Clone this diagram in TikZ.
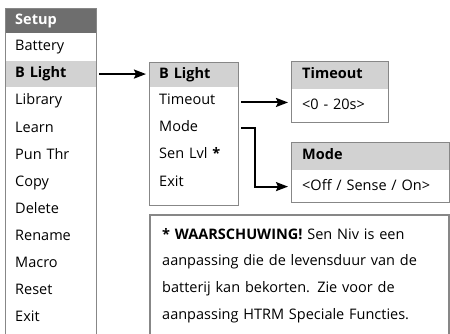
\documentclass[tikz,border=0pt]{standalone}
\usepackage{fontspec}
\setmainfont{Open Sans}
\usetikzlibrary{arrows.meta,positioning,calc}
\definecolor{grisoscuro}{RGB}{110,110,110}
\definecolor{grisclaro}{RGB}{210,210,210}
\definecolor{grismarco}{RGB}{135,135,135}

\begin{document}
\begin{tikzpicture}[x=1pt, y=-1pt,
    row/.style={rectangle, inner xsep=10pt, inner ysep=0pt,
                minimum height=26.7pt, text height=10.5pt, text depth=3pt,
                align=left, font=\fontsize{14.5}{17}\selectfont},
    head/.style={row, minimum height=25pt, font=\fontsize{14.5}{17}\selectfont\bfseries},
    frame/.style={draw=grismarco, line width=0.9pt},
    arrow/.style={-{Stealth[length=12pt,width=9pt,inset=2pt]}, line width=2pt}
  ]
    \useasboundingbox (0,0) rectangle (450,333);

    % Setup menu
    \node[head, anchor=north west, text width=71pt, fill=grisoscuro, text=white] (shead) at (5,8) {Setup};
    \node[row, text width=71pt, below=0pt of shead] (sbattery) {Battery};
    \node[row, text width=71pt, below=0pt of sbattery, fill=grisclaro, font=\fontsize{14.5}{17}\selectfont\bfseries] (sblight) {B Light};
    \node[row, text width=71pt, below=0pt of sblight] (slibrary) {Library};
    \node[row, text width=71pt, below=0pt of slibrary] (slearn) {Learn};
    \node[row, text width=71pt, below=0pt of slearn] (spun) {Pun Thr};
    \node[row, text width=71pt, below=0pt of spun] (scopy) {Copy};
    \node[row, text width=71pt, below=0pt of scopy] (sdelete) {Delete};
    \node[row, text width=71pt, below=0pt of sdelete] (srename) {Rename};
    \node[row, text width=71pt, below=0pt of srename] (smacro) {Macro};
    \node[row, text width=71pt, below=0pt of smacro] (sreset) {Reset};
    \node[row, text width=71pt, below=0pt of sreset] (sexit) {Exit};
    \draw[frame] (shead.north west) rectangle ($(sexit.south east)+(0,4)$);

    % B Light menu
    \node[head, anchor=north west, text width=69pt, fill=grisclaro] (bhead) at (149,62) {B Light};
    \node[row, text width=69pt, below=0pt of bhead] (btimeout) {Timeout};
    \node[row, text width=69pt, below=0pt of btimeout] (bmode) {Mode};
    \node[row, text width=69pt, below=0pt of bmode] (bsen) {Sen Lvl \textbf{*}};
    \node[row, text width=69pt, below=0pt of bsen] (bexit) {Exit};
    \draw[frame] (bhead.north west) rectangle ($(bexit.south east)+(0,10)$);

    % Timeout
    \node[head, anchor=north west, text width=75pt, inner xsep=11pt, minimum height=28pt, fill=grisclaro] (thead) at (291,61) {Timeout};
    \node[row, text width=75pt, inner xsep=11pt, minimum height=33pt, below=0pt of thead] (trange) {<0 - 20s>};
    \draw[frame] (thead.north west) rectangle (trange.south east);

    % Mode
    \node[head, anchor=north west, text width=136pt, inner xsep=11pt, minimum height=28pt, fill=grisclaro] (mhead) at (291,142) {Mode};
    \node[row, text width=136pt, inner xsep=11pt, minimum height=32pt, below=0pt of mhead] (mrange) {<Off / Sense / On>};
    \draw[frame] (mhead.north west) rectangle (mrange.south east);

    % waarschuwing
    \coordinate (whoek) at (150,215);
    \node[anchor=north west, text width=275pt, inner xsep=12pt, inner ysep=13pt, align=left,
          font=\fontsize{14.5}{26.7}\selectfont] (waarsch) at (whoek)
      {\textbf{* WAARSCHUWING!} Sen Niv is een\\aanpassing die de levensduur van de\\batterij kan bekorten. Zie voor de\\aanpassing HTRM Speciale Functies.};
    \draw[draw=grismarco, line width=1.8pt] (whoek) rectangle ++(299,130);

    \draw[arrow] ([xshift=3pt]sblight.east) -- ([xshift=-3pt]sblight.east -| bhead.west);
    \draw[arrow] ([xshift=3pt,yshift=-1.5pt]btimeout.east) -- ([xshift=-3pt,yshift=-1.5pt]btimeout.east -| trange.west);
    \draw[arrow] ([xshift=3pt]bmode.east) -- ++(14,0) |- ([xshift=-3pt]mrange.west);
  \end{tikzpicture}
\end{document}
